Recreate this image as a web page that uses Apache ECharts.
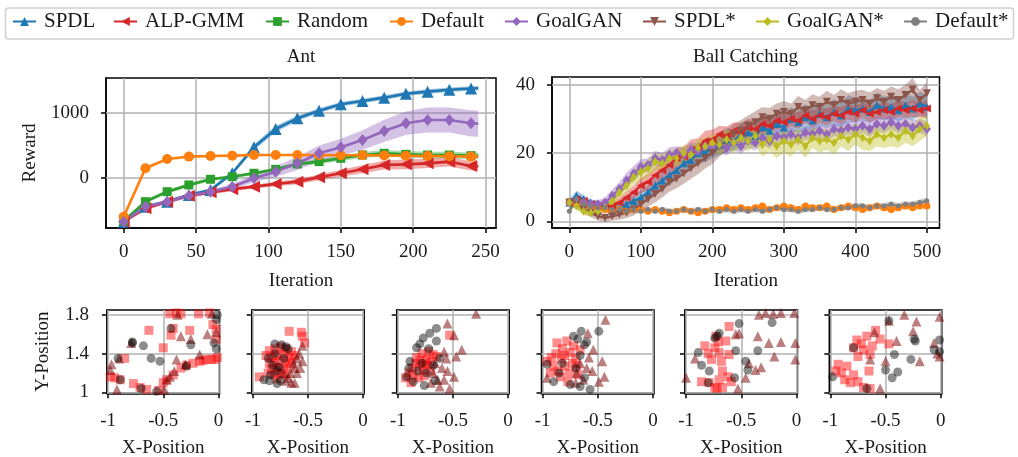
<!DOCTYPE html>
<html><head><meta charset="utf-8">
<script src="https://cdn.jsdelivr.net/npm/echarts@6/dist/echarts.min.js"></script>
<style>html,body{margin:0;padding:0;background:#fff}#c{width:1018px;height:457px}</style>
</head><body><div id="c"></div>
<script>
const FONT = 'Liberation Serif';

// ---------- Ant ----------
const antX = [0,15,30,45,60,75,90,105,120,135,150,165,180,195,210,225,240,245];
const antSPDL   = [-669,-439,-363,-260,-184,72,470,750,914,1031,1128,1179,1230,1291,1322,1352,1370,1375];
const antSPDLsd = [20,25,25,25,25,30,45,50,40,35,35,35,35,35,35,35,35,35];
const antALP    = [-669,-465,-363,-271,-220,-173,-133,-92,-56,10,72,133,199,209,224,250,184,180];
const antALPsd  = [20,30,30,30,30,30,30,35,40,45,55,60,70,75,70,75,70,70];
const antRandom = [-659,-363,-210,-107,-20,20,72,133,214,250,301,352,378,362,352,352,342,340];
const antRandomsd = [20,30,30,30,25,25,25,25,30,35,40,45,50,50,50,50,50,50];
const antDefault = [-592,148,291,327,337,342,352,352,352,350,347,347,345,340,337,332,327,327];
const antDefaultsd = [15,15,10,10,10,10,10,10,10,10,10,10,10,10,10,10,10,10];
const antGoalGAN = [-669,-439,-363,-271,-210,-133,-5,97,224,378,470,582,720,837,888,888,837,830];
const antGoalGANsd = [20,25,25,25,30,40,60,80,100,120,130,150,170,180,190,190,200,200];
const antXTicks = [0,50,100,150,200,250];
const antYTicks = [0,1000];

// ---------- Ball Catching ----------
const ballX = [0,10,20,30,40,50,60,70,80,90,100,110,120,130,140,150,160,170,180,190,200,210,220,230,240,250,260,270,280,290,300,310,320,330,340,350,360,370,380,390,400,410,420,430,440,450,460,470,480,490,500];
const ballSPDL = [5.5,7.5,6.5,5.5,5.0,4.5,3.5,4.0,5.0,6.0,7.0,8.5,10.5,12.0,13.5,15.0,17.0,18.0,20.0,20.5,21.5,22.5,24.0,23.5,25.5,26.0,25.0,27.5,26.5,28.5,27.5,30.0,29.0,30.5,29.5,31.5,30.5,32.0,31.0,33.0,32.5,33.0,32.0,34.0,33.0,33.5,32.5,34.0,33.0,34.5,33.5];
const ballSPDLsd = [1.0,1.5,1.2,1.0,1.0,1.0,1.2,1.3,1.5,1.8,2.0,2.2,2.5,2.5,2.8,2.8,3.0,2.8,3.0,3.2,3.0,3.2,3.5,3.0,3.2,3.5,3.0,3.5,3.2,3.8,3.5,3.5,3.2,3.8,3.5,3.5,3.2,3.8,3.5,4.0,3.5,3.5,3.2,3.8,3.5,3.5,3.2,3.8,3.5,3.5,3.5];
const ballALP = [5.5,6.5,6.0,5.0,4.5,4.0,4.5,5.5,7.0,8.5,10.5,11.5,13.5,15.0,16.5,18.5,19.0,21.0,21.5,23.5,24.0,25.5,25.0,26.5,26.0,27.5,27.0,28.5,28.0,29.5,29.0,30.0,29.5,31.0,30.0,31.0,30.5,31.5,31.0,32.0,31.5,32.5,31.5,32.0,32.5,32.0,33.0,32.5,33.0,32.5,33.0];
const ballALPsd = [0.8,1.0,1.0,1.0,1.0,1.0,1.2,1.5,1.8,2.0,2.2,2.5,2.5,2.8,2.8,3.0,2.8,3.0,2.8,3.0,2.8,2.5,2.8,2.5,2.8,2.5,2.5,2.8,2.5,2.5,2.5,2.2,2.5,2.2,2.5,2.2,2.5,2.2,2.5,2.2,2.5,2.2,2.5,2.2,2.5,2.2,2.5,2.2,2.5,2.2,2.5];
const ballDefault = [5.5,5.0,5.5,4.5,4.0,3.5,3.0,3.5,3.0,3.5,3.5,3.0,3.5,3.0,2.5,3.0,3.5,3.0,2.5,3.0,3.5,3.5,4.0,3.5,4.0,3.5,4.0,4.5,3.5,4.0,4.5,4.0,3.5,4.5,4.0,4.0,4.5,3.5,4.0,4.5,4.0,3.5,4.0,4.5,4.0,3.5,4.0,4.5,4.0,4.5,4.5];
const ballDefaultsd = [0.8,1.0,1.0,0.8,0.8,0.8,0.7,0.7,0.7,0.7,0.7,0.7,0.7,0.7,0.7,0.7,0.7,0.7,0.7,0.7,0.8,0.8,0.8,0.8,0.8,0.8,0.8,0.8,0.8,0.8,0.9,0.9,0.9,0.9,0.9,0.9,0.9,0.9,0.9,0.9,0.9,0.9,0.9,0.9,0.9,0.9,0.9,0.9,0.9,0.9,0.9];
const ballGoalGAN = [5.5,6.0,5.5,5.0,5.0,5.5,7.5,9.5,12.0,14.0,16.0,16.5,18.5,18.0,19.5,20.0,19.5,21.0,20.5,22.0,21.5,22.5,21.5,23.0,22.0,23.5,23.0,24.5,23.5,25.0,24.5,25.5,24.5,26.0,25.5,26.5,25.5,27.0,26.5,27.5,27.0,28.0,27.0,28.5,28.0,29.0,28.0,28.5,27.5,28.0,27.0];
const ballGoalGANsd = [1.0,1.2,1.2,1.2,1.2,1.5,1.8,2.0,2.2,2.2,2.2,2.0,2.2,2.0,2.2,2.0,2.2,2.0,2.2,2.0,2.2,2.0,2.2,2.0,2.2,2.0,2.2,2.0,2.2,2.0,2.2,2.0,2.2,2.0,2.2,2.0,2.2,2.0,2.2,2.0,2.2,2.0,2.2,2.0,2.2,2.0,2.2,2.0,2.2,2.0,2.2];
const ballSPDLs = [5.5,5.0,3.5,2.5,1.5,1.0,1.5,2.0,2.5,3.5,5.0,6.5,8.0,9.5,11.5,12.5,14.0,15.5,17.0,18.5,20.0,22.0,23.5,25.5,26.5,28.0,29.0,30.5,30.0,31.5,32.0,31.5,33.5,32.5,34.0,33.5,35.0,34.0,35.5,34.5,35.0,35.5,34.5,36.0,35.0,36.5,35.5,37.0,38.5,35.5,37.5];
const ballSPDLssd = [1.0,1.2,1.2,1.2,1.2,1.2,1.2,1.5,1.5,1.8,2.0,2.2,2.5,2.5,2.8,2.8,3.0,3.0,3.2,3.0,3.2,3.0,3.2,3.0,3.2,3.0,3.2,3.0,3.2,3.0,3.2,3.0,3.2,3.0,3.2,3.0,3.2,3.0,3.2,3.0,3.2,3.0,3.2,3.0,3.2,3.0,3.2,3.0,3.5,3.0,3.2];
const ballGoalGANs = [5.5,4.5,3.0,2.5,3.0,4.0,6.0,8.5,10.5,13.0,14.5,15.5,17.5,17.0,18.5,18.5,20.0,19.5,21.5,22.0,23.0,22.5,24.0,23.0,24.5,23.5,25.0,22.5,24.0,22.0,23.5,22.5,24.0,22.0,24.5,23.5,24.0,23.0,25.0,24.0,25.5,24.5,23.5,25.5,24.5,25.5,24.5,26.5,25.0,27.0,28.0];
const ballGoalGANssd = [1.0,1.2,1.2,1.0,1.0,1.2,1.5,1.8,2.0,2.2,2.5,2.5,2.5,2.5,2.5,2.5,2.5,2.5,2.5,2.5,2.5,3.0,3.0,3.0,3.0,3.0,3.0,3.5,3.5,3.5,3.5,3.5,3.0,3.5,3.0,3.5,3.0,3.5,3.0,3.5,3.0,3.5,3.0,3.5,3.0,3.5,3.0,3.5,3.0,3.5,3.0];
const ballDefaults = [3.0,6.5,5.0,4.5,4.0,4.0,3.5,3.5,3.0,3.5,3.0,3.5,3.0,3.5,3.0,3.0,3.5,3.0,3.5,3.0,3.5,3.0,3.5,3.0,3.5,3.0,3.5,3.0,3.5,4.0,3.5,3.5,3.0,3.5,3.5,4.0,3.5,3.5,4.0,4.0,4.5,4.5,4.0,4.5,4.5,5.0,4.5,5.0,5.0,5.5,6.0];
const ballDefaultssd = [1.0,1.2,1.0,0.9,0.9,0.9,0.8,0.8,0.8,0.8,0.8,0.8,0.8,0.8,0.8,0.8,0.8,0.8,0.8,0.8,0.8,0.8,0.8,0.8,0.8,0.8,0.8,0.8,0.8,0.8,0.8,0.8,0.8,0.8,0.8,0.8,0.8,0.8,0.8,0.8,0.9,0.9,0.9,0.9,0.9,0.9,0.9,0.9,0.9,0.9,1.0];
const ballXTicks = [0,100,200,300,400,500];
const ballYTicks = [0,20,40];

// ---------- Context scatter panels ----------
const posXTicks = [-1,-0.5,0];
const posYTicks = [1,1.4,1.8];
const p1Squares = [[-0.63,1.64],[-0.41,1.66],[-0.43,1.59],[-0.26,1.64],[-0.50,1.46],[-0.44,1.81],[-0.38,1.82],[-0.34,1.81],[-0.18,1.81],[-0.08,1.82],[-0.05,1.70],[-0.02,1.65],[-0.01,1.36],[-0.03,1.34],[-0.98,1.16],[-0.94,1.15],[-0.89,1.13],[-0.77,1.09],[-0.71,1.05],[-0.65,1.03],[-0.54,1.02],[-0.50,1.10],[-0.41,1.18],[-0.34,1.25],[-0.23,1.30],[-0.17,1.32],[-0.11,1.34],[-0.06,1.34],[-0.85,1.35],[-0.02,1.55],[-0.47,1.13],[-0.29,1.28],[-0.14,1.33]];
const p1Circles = [[-0.78,1.52],[-0.68,1.48],[-0.61,1.35],[-0.53,1.32],[-0.43,1.66],[-0.25,1.49],[-0.04,1.51],[-0.02,1.75],[-0.91,1.35],[-0.70,1.04],[-0.56,1.01],[-0.29,1.27],[-0.89,1.13],[-0.01,1.80],[-0.02,1.45],[-0.78,1.51]];
const p1Triangles = [[-0.97,1.29],[-0.79,1.51],[-0.34,1.58],[-0.25,1.55],[-0.38,1.34],[-0.44,1.16],[-0.40,1.22],[-0.17,1.39],[-0.37,1.80],[-0.06,1.81],[-0.49,1.03],[-0.92,1.03],[-0.98,1.23],[-0.90,1.35],[-0.47,1.13],[-0.30,1.29],[-0.10,1.60],[-0.02,1.62]];
const p2Squares = [[-0.67,1.63],[-0.56,1.62],[-0.55,1.58],[-0.53,1.51],[-0.94,1.16],[-0.85,1.43],[-0.80,1.45],[-0.75,1.47],[-0.70,1.45],[-0.65,1.42],[-0.88,1.38],[-0.83,1.36],[-0.78,1.38],[-0.72,1.40],[-0.67,1.36],[-0.62,1.38],[-0.85,1.30],[-0.80,1.31],[-0.75,1.33],[-0.70,1.30],[-0.65,1.32],[-0.83,1.24],[-0.78,1.26],[-0.72,1.24],[-0.67,1.27],[-0.80,1.18],[-0.75,1.20],[-0.70,1.18],[-0.86,1.20],[-0.78,1.14]];
const p2Circles = [[-0.80,1.50],[-0.74,1.49],[-0.70,1.47],[-0.86,1.35],[-0.90,1.13],[-0.85,1.12],[-0.78,1.09],[-0.75,1.12],[-0.78,1.22],[-0.80,1.40],[-0.72,1.35],[-0.68,1.45],[-0.82,1.28],[-0.76,1.26],[-0.84,1.18]];
const p2Triangles = [[-0.55,1.48],[-0.60,1.35],[-0.58,1.40],[-0.62,1.25],[-0.60,1.20],[-0.65,1.10],[-0.62,1.10],[-0.68,1.15],[-0.70,1.12],[-0.66,1.20],[-0.72,1.20],[-0.63,1.30],[-0.57,1.25],[-0.55,1.32]];
const p3Squares = [[-0.53,1.59],[-0.93,1.15],[-0.86,1.18],[-0.80,1.27],[-0.74,1.34],[-0.68,1.39],[-0.81,1.15],[-0.77,1.23],[-0.73,1.28],[-0.87,1.25],[-0.70,1.32],[-0.65,1.37],[-0.83,1.36],[-0.78,1.40],[-0.72,1.42],[-0.90,1.20],[-0.84,1.30],[-0.76,1.17],[-0.70,1.22],[-0.88,1.10],[-0.80,1.33],[-0.75,1.30]];
const p3Circles = [[-0.65,1.66],[-0.71,1.61],[-0.77,1.56],[-0.83,1.46],[-0.89,1.32],[-0.92,1.16],[-0.86,1.11],[-0.76,1.07],[-0.65,1.53],[-0.80,1.50],[-0.72,1.45],[-0.68,1.28],[-0.62,1.35],[-0.74,1.20],[-0.82,1.22],[-0.66,1.12],[-0.90,1.25],[-0.78,1.30]];
const p3Triangles = [[-0.29,1.81],[-0.55,1.71],[-0.49,1.59],[-0.42,1.44],[-0.47,1.37],[-0.56,1.35],[-0.49,1.16],[-0.58,1.13],[-0.62,1.06],[-0.53,1.04],[-0.68,1.20],[-0.64,1.13],[-0.60,1.25],[-0.66,1.30],[-0.58,1.42],[-0.70,1.10],[-0.55,1.22]];
const p4Squares = [[-0.87,1.51],[-0.78,1.53],[-0.96,1.32],[-0.90,1.27],[-0.83,1.35],[-0.75,1.41],[-0.66,1.44],[-0.93,1.20],[-0.84,1.16],[-0.77,1.11],[-0.69,1.27],[-0.80,1.27],[-0.88,1.40],[-0.72,1.48],[-0.70,1.35],[-0.82,1.45],[-0.76,1.20],[-0.92,1.36],[-0.86,1.22],[-0.73,1.30],[-0.68,1.18],[-0.80,1.38]];
const p4Circles = [[-0.65,1.63],[-0.72,1.58],[-0.49,1.63],[-0.62,1.49],[-0.96,1.29],[-0.90,1.11],[-0.75,1.08],[-0.66,1.06],[-0.57,1.03],[-0.82,1.30],[-0.68,1.55],[-0.60,1.52],[-0.70,1.25],[-0.62,1.15],[-0.85,1.20],[-0.66,1.38]];
const p4Triangles = [[-0.43,1.75],[-0.59,1.61],[-0.54,1.44],[-0.46,1.32],[-0.44,1.16],[-0.96,1.15],[-0.49,1.11],[-0.69,1.20],[-0.63,1.13],[-0.58,1.36],[-0.60,1.25],[-0.66,1.30],[-0.55,1.22],[-0.70,1.10]];
const p5Squares = [[-0.61,1.68],[-0.73,1.58],[-0.64,1.53],[-0.83,1.48],[-0.74,1.46],[-0.70,1.41],[-0.61,1.39],[-0.77,1.34],[-0.68,1.32],[-0.67,1.22],[-0.62,1.16],[-0.86,1.11],[-0.79,1.10],[-0.74,1.05],[-0.67,1.05],[-0.70,1.13],[-0.59,1.11],[-0.80,1.40],[-0.71,1.52],[-0.72,1.04]];
const p5Circles = [[-0.52,1.71],[-0.70,1.61],[-0.74,1.56],[-0.55,1.43],[-0.89,1.41],[-0.86,1.28],[-0.79,1.22],[-0.56,1.15],[-0.46,1.32],[-0.35,1.43],[-0.22,1.72],[-0.80,1.10],[-0.44,1.23],[-0.72,1.58]];
const p5Triangles = [[-0.92,1.35],[-0.52,1.61],[-0.35,1.58],[-0.25,1.51],[-0.14,1.52],[-0.20,1.37],[-0.01,1.34],[-0.01,1.51],[-0.43,1.30],[-0.46,1.15],[-0.37,1.23],[-0.32,1.26],[-0.53,1.04],[-0.34,1.80],[-0.28,1.82],[-0.14,1.82],[-0.02,1.82],[-0.21,1.81],[-0.55,1.60],[-1.0,1.15]];
const p6Squares = [[-0.76,1.54],[-0.67,1.58],[-0.59,1.64],[-0.55,1.55],[-0.47,1.50],[-0.79,1.46],[-0.70,1.44],[-0.64,1.39],[-0.75,1.37],[-0.93,1.29],[-0.85,1.27],[-0.90,1.20],[-0.79,1.18],[-0.87,1.13],[-0.75,1.11],[-0.65,1.22],[-0.70,1.05],[-0.64,1.04],[-0.72,1.50],[-0.62,1.48],[-0.95,1.22],[-0.82,1.10]];
const p6Circles = [[-0.79,1.46],[-0.47,1.74],[-0.42,1.39],[-0.27,1.34],[-0.23,1.53],[-0.50,1.23],[-0.39,1.21],[-0.44,1.15],[-0.06,1.44],[-0.01,1.54],[-0.98,1.16],[-0.67,1.04],[-0.24,1.55],[-0.01,1.42]];
const p6Triangles = [[-0.47,1.74],[-0.33,1.80],[-0.22,1.73],[-0.25,1.63],[-0.40,1.53],[-0.50,1.32],[-0.64,1.34],[-0.19,1.32],[-0.06,1.51],[-0.01,1.37],[-0.55,1.04],[-0.01,1.78],[-0.03,1.40],[-0.60,1.62]];

const legendNames = ['SPDL','ALP-GMM','Random','Default','GoalGAN','SPDL*','GoalGAN*','Default*'];

// ---------- styling / layout ----------
const STY = {
  'SPDL':     {c:'#1f77b4', sym:'triangle', rot:0,   ant:12, ball:8},
  'ALP-GMM':  {c:'#d62728', sym:'triangle', rot:90,  ant:12, ball:8},
  'Random':   {c:'#2ca02c', sym:'rect',     rot:0,   ant:9,  ball:6},
  'Default':  {c:'#ff7f0e', sym:'circle',   rot:0,   ant:10, ball:7},
  'GoalGAN':  {c:'#9467bd', sym:'diamond',  rot:0,   ant:[10,12], ball:[8,10]},
  'SPDL*':    {c:'#8c564b', sym:'triangle', rot:180, ant:12, ball:8},
  'GoalGAN*': {c:'#bcbd22', sym:'diamond',  rot:0,   ant:[7,10], ball:[6,9]},
  'Default*': {c:'#7f7f7f', sym:'circle',   rot:0,   ant:5,  ball:5}
};
const TXT = '#1a1a1a';
const grids = [
  {left:106, top:78, width:390, height:150},
  {left:552, top:77, width:387.5, height:151},
  {left:107, top:310, width:112.5, height:83.3},
  {left:251.7, top:310, width:112.5, height:83.3},
  {left:396.7, top:310, width:112.5, height:83.3},
  {left:541.5, top:310, width:112.5, height:83.3},
  {left:685, top:310, width:112.5, height:83.3},
  {left:829.3, top:310, width:112.5, height:83.3}
].map(g => Object.assign({show:true, borderColor:'#000', borderWidth:1.5, backgroundColor:'rgba(0,0,0,0)', containLabel:false, outerBoundsMode:'none'}, g));

function mkAxis(grid, dim, min, max, ticks, showLabels, name, nameGap, margin) {
  return {
    type:'value', gridIndex:grid, min:min, max:max,
    axisLine:{show:true, onZero:false, lineStyle:{color:'#000', width:1.5}},
    axisTick:{show:true, inside:false, length:5, customValues:ticks, lineStyle:{color:'#000', width:1.5}},
    axisLabel:{show:showLabels, customValues:ticks, formatter:v => String(v), fontFamily:FONT, fontSize:19, color:TXT, margin:margin},
    splitLine:{show:false},
    name:name || '', nameLocation:'middle', nameGap:nameGap || 0, nameRotate: dim === 'y' ? 90 : 0,
    nameMoveOverlap:false,
    nameTextStyle:{fontFamily:FONT, fontSize:19, color:TXT}
  };
}
const xAxes = [], yAxes = [];
xAxes.push(mkAxis(0,'x',-12.25,257.25,antXTicks,true,'Iteration',44,15));
yAxes.push(mkAxis(0,'y',-766,1531,antYTicks,true,'Reward',66,17));
xAxes.push(mkAxis(1,'x',-24.2,517.6,ballXTicks,true,'Iteration',44,15));
yAxes.push(mkAxis(1,'y',-1.93,42.25,ballYTicks,true,'',0,17));
for (let k = 0; k < 6; k++) {
  xAxes.push(mkAxis(2+k,'x',-1.01,0.01,posXTicks,true,'X-Position',45,18));
  yAxes.push(mkAxis(2+k,'y',0.99,1.85,posYTicks,k === 0,k === 0 ? 'Y-Position' : '',54,18));
}

const series = [];
function gridLines(g, xt, yt) {
  series.push({
    type:'line', xAxisIndex:g, yAxisIndex:g, data:[[xt[0], yt[0]]], symbol:'none', lineStyle:{opacity:0}, z:1, silent:true,
    markLine:{silent:true, z:1, symbol:['none','none'], label:{show:false}, animation:false,
      lineStyle:{color:'#b0b0b0', width:1.5, type:'solid'}, emphasis:{disabled:true},
      data:[...xt.map(v => ({xAxis:v})), ...yt.map(v => ({yAxis:v}))]}
  });
}
function addCurve(name, g, xs, ys, sd, sizeKey, markerFn, lw) {
  const s = STY[name];
  // shaded +/- band drawn as a polygon through the axis scales
  series.push({type:'custom', xAxisIndex:g, yAxisIndex:g, silent:true, z:2, clip:true,
    data:[[xs[0], ys[0]]],
    renderItem:(params, api) => {
      const up = xs.map((x,i) => api.coord([x, ys[i] + sd[i]]));
      const lo = xs.map((x,i) => api.coord([x, ys[i] - sd[i]])).reverse();
      return {type:'polygon', shape:{points:up.concat(lo)}, style:{fill:s.c, opacity:0.4}};
    }});
  series.push({name:name, type:'line', xAxisIndex:g, yAxisIndex:g, z:3,
    data: xs.map((x,i) => markerFn(x) ? [x, ys[i]] : {value:[x, ys[i]], symbolSize:0}),
    symbol:s.sym, symbolRotate:s.rot, symbolSize:s[sizeKey], showSymbol:true,
    itemStyle:{color:s.c, borderWidth:0}, lineStyle:{color:s.c, width:lw}});
}

gridLines(0, antXTicks, antYTicks);
gridLines(1, ballXTicks, ballYTicks);
for (let k = 0; k < 6; k++) gridLines(2+k, posXTicks, posYTicks);

const antMark = x => x % 15 === 0;
addCurve('SPDL', 0, antX, antSPDL, antSPDLsd, 'ant', antMark, 2.6);
addCurve('ALP-GMM', 0, antX, antALP, antALPsd, 'ant', antMark, 2.6);
addCurve('Random', 0, antX, antRandom, antRandomsd, 'ant', antMark, 2.6);
addCurve('Default', 0, antX, antDefault, antDefaultsd, 'ant', antMark, 2.6);
addCurve('GoalGAN', 0, antX, antGoalGAN, antGoalGANsd, 'ant', antMark, 2.6);

const ballMark = x => true;
addCurve('SPDL', 1, ballX, ballSPDL, ballSPDLsd, 'ball', ballMark, 2.3);
addCurve('ALP-GMM', 1, ballX, ballALP, ballALPsd, 'ball', ballMark, 2.3);
addCurve('Default', 1, ballX, ballDefault, ballDefaultsd, 'ball', ballMark, 2.3);
addCurve('GoalGAN', 1, ballX, ballGoalGAN, ballGoalGANsd, 'ball', ballMark, 2.3);
addCurve('SPDL*', 1, ballX, ballSPDLs, ballSPDLssd, 'ball', ballMark, 2.3);
addCurve('GoalGAN*', 1, ballX, ballGoalGANs, ballGoalGANssd, 'ball', ballMark, 2.3);
addCurve('Default*', 1, ballX, ballDefaults, ballDefaultssd, 'ball', ballMark, 2.3);

const panels = [
  [p1Squares, p1Circles, p1Triangles],
  [p2Squares, p2Circles, p2Triangles],
  [p3Squares, p3Circles, p3Triangles],
  [p4Squares, p4Circles, p4Triangles],
  [p5Squares, p5Circles, p5Triangles],
  [p6Squares, p6Circles, p6Triangles]
];
panels.forEach((p, k) => {
  const g = 2 + k;
  series.push({type:'scatter', xAxisIndex:g, yAxisIndex:g, z:3, silent:true, data:p[0], symbol:'rect', symbolSize:9,
    itemStyle:{color:'#ff0000', opacity:0.45}});
  series.push({type:'scatter', xAxisIndex:g, yAxisIndex:g, z:3, silent:true, data:p[2], symbol:'triangle', symbolSize:10,
    itemStyle:{color:'#7a0000', opacity:0.5}});
  series.push({type:'scatter', xAxisIndex:g, yAxisIndex:g, z:3, silent:true, data:p[1], symbol:'circle', symbolSize:9,
    itemStyle:{color:'#000000', opacity:0.45}});
});

const legendLeft = [12, 113, 265, 389, 504, 642, 755, 903];
const legends = legendNames.map((n, i) => ({
  show:true, data:[n], left:legendLeft[i], top:11, padding:0, orient:'horizontal',
  itemWidth:23, itemHeight:11, selectedMode:false,
  textStyle:{fontFamily:FONT, fontSize:21, color:TXT, padding:[0,0,0,3]}
}));

const option = {
  animation:false,
  backgroundColor:'#ffffff',
  grid:grids, xAxis:xAxes, yAxis:yAxes, series:series, legend:legends,
  graphic:[
    {type:'rect', z:0, shape:{x:5.5, y:8, width:1008, height:31, r:3}, style:{fill:'#ffffff', stroke:'#d0d0d0', lineWidth:1.5}},
    {type:'text', z:10, x:301, y:57, style:{text:'Ant', textAlign:'center', textVerticalAlign:'middle', font:'19px "Liberation Serif"', fill:TXT}},
    {type:'text', z:10, x:745.5, y:57, style:{text:'Ball Catching', textAlign:'center', textVerticalAlign:'middle', font:'19px "Liberation Serif"', fill:TXT}}
  ]
};
const chart = echarts.init(document.getElementById('c'), null, {renderer:'canvas'});
chart.setOption(option);
</script></body></html>
